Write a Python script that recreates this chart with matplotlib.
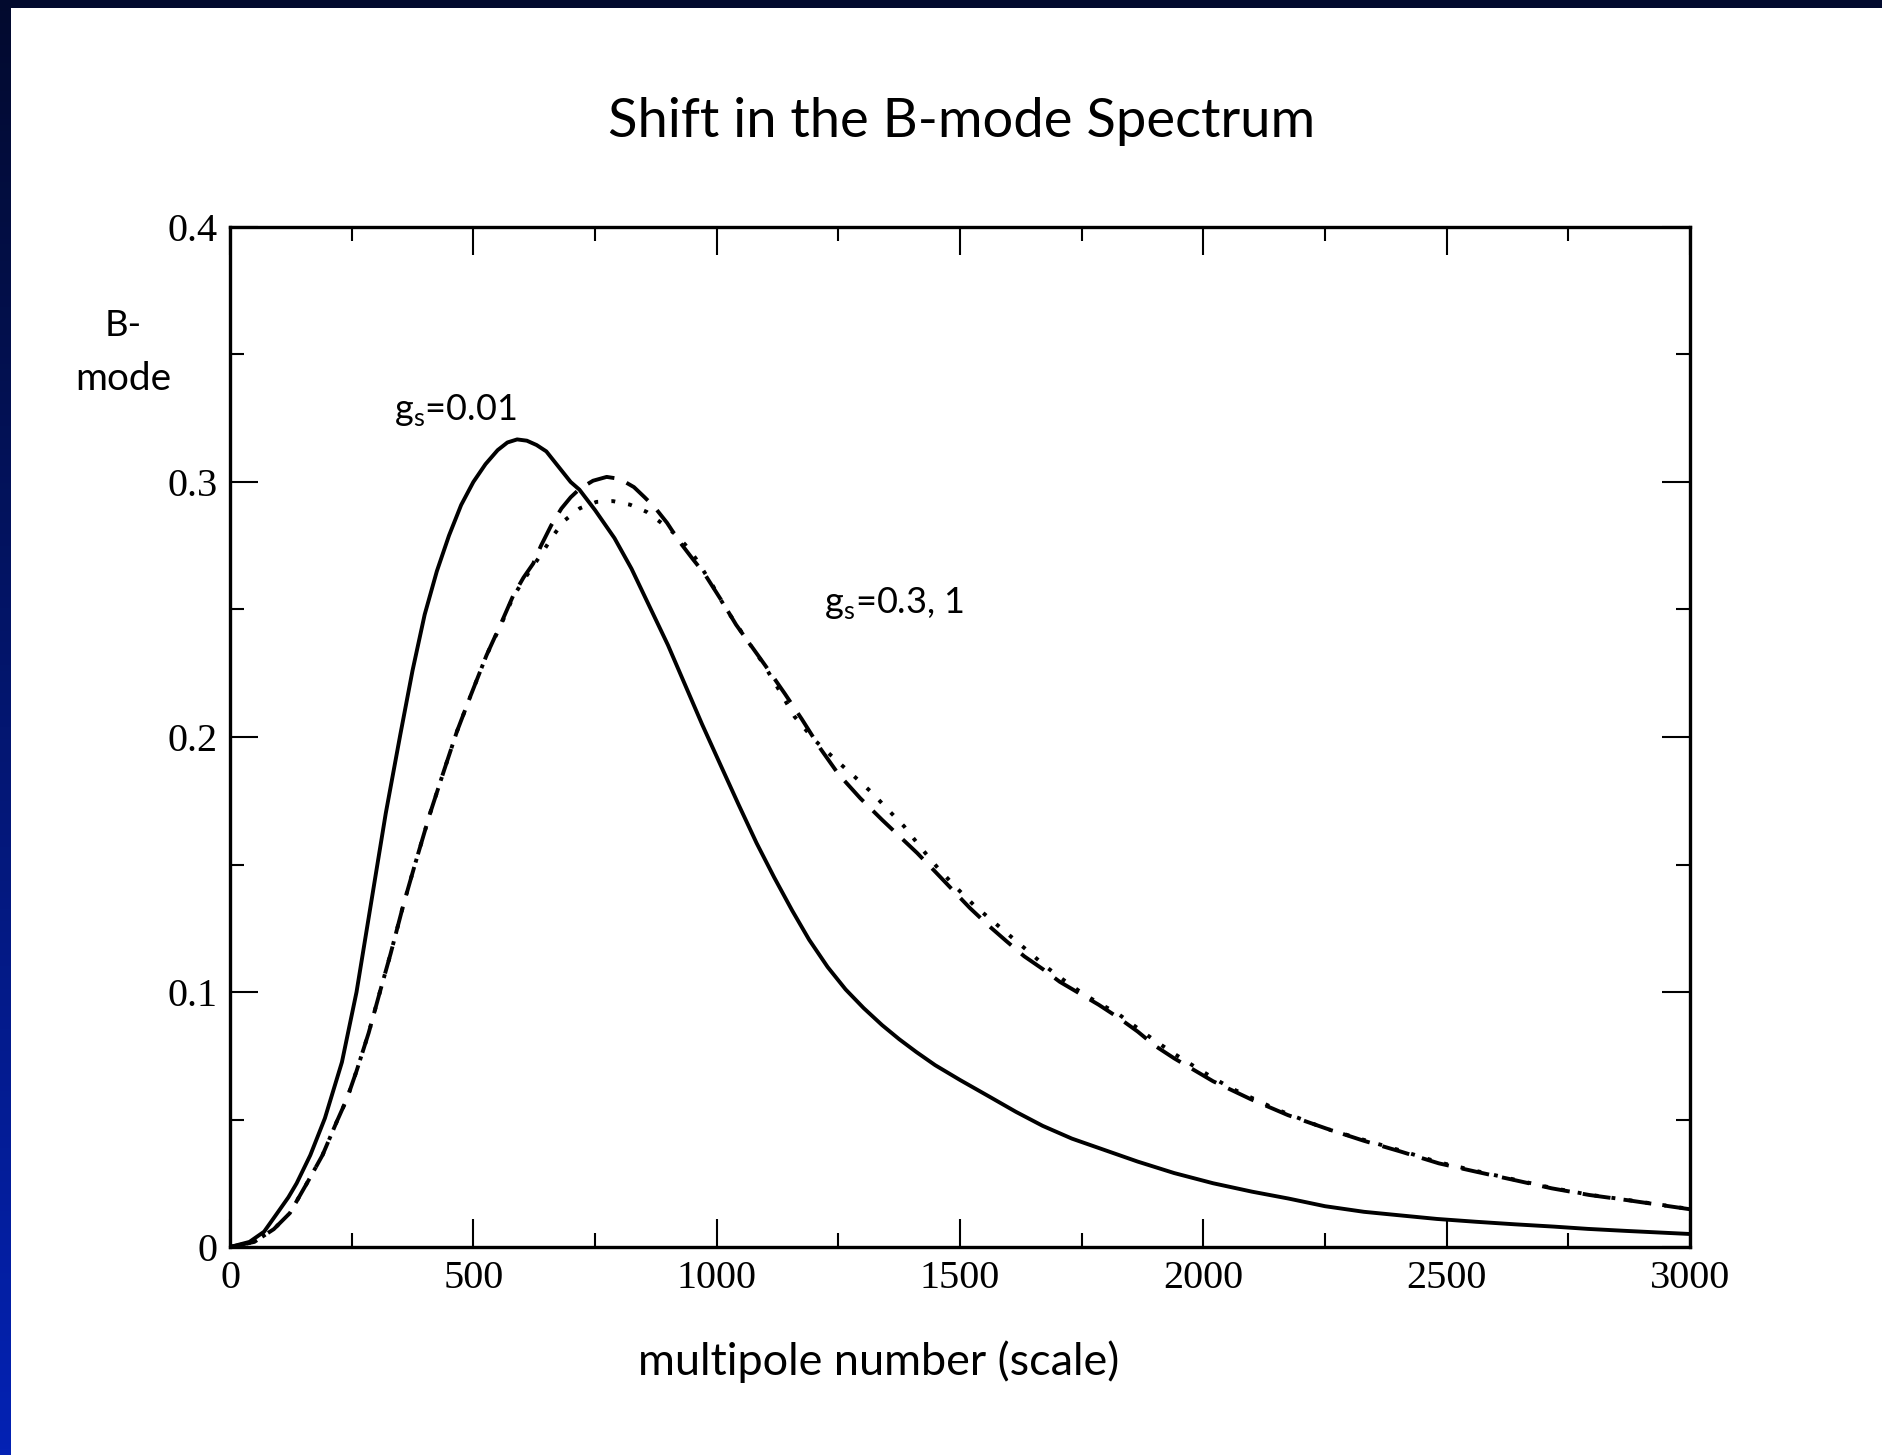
import numpy as np
import matplotlib
matplotlib.use("Agg")
import matplotlib.pyplot as plt
from matplotlib.ticker import MultipleLocator

# ---------------- data ----------------
title = "Shift in the B-mode Spectrum"
xlabel = "multipole number (scale)"
ylabel_lines = ["B-", "mode"]
label_gs001 = r"g$_\mathregular{s}$=0.01"
label_gs03_1 = r"g$_\mathregular{s}$=0.3, 1"

x_gs001 = [0, 40, 70, 96, 120, 137, 165, 195, 230, 260, 290, 320, 350, 375, 400, 425,
           450, 475, 500, 525, 550, 570, 590, 610, 630, 650, 675, 700, 718, 750, 790,
           825, 860, 900, 935, 970, 1008, 1045, 1082, 1118, 1155, 1190, 1228, 1265,
           1302, 1340, 1375, 1410, 1449, 1500, 1560, 1615, 1670, 1730, 1790, 1865,
           1940, 2020, 2100, 2175, 2250, 2330, 2410, 2480, 2560, 2640, 2720, 2790,
           2870, 3000]
y_gs001 = [0.0, 0.002, 0.006, 0.013, 0.0195, 0.025, 0.036, 0.0505, 0.0725, 0.100,
           0.135, 0.170, 0.201, 0.226, 0.248, 0.265, 0.279, 0.291, 0.300, 0.307,
           0.3125, 0.3155, 0.3167, 0.3162, 0.3145, 0.312, 0.306, 0.300, 0.297, 0.289,
           0.278, 0.266, 0.252, 0.236, 0.2205, 0.205, 0.189, 0.1735, 0.1584, 0.145,
           0.132, 0.1205, 0.1098, 0.101, 0.0937, 0.087, 0.0815, 0.0765, 0.0713,
           0.0655, 0.059, 0.053, 0.0475, 0.0425, 0.0385, 0.0335, 0.029, 0.025,
           0.0217, 0.019, 0.016, 0.0138, 0.0123, 0.011, 0.0099, 0.0089, 0.008,
           0.0071, 0.0063, 0.0051]

x_gs03 = [0, 50, 90, 123, 161, 190, 219, 240, 260, 285, 308, 330, 356, 380, 411, 440,
          466, 495, 527, 558, 582, 603, 623, 639, 660, 681, 700, 719, 746, 774, 801,
          830, 852, 873, 898, 922, 950, 975, 1010, 1040, 1070, 1100, 1140, 1175,
          1213, 1250, 1295, 1340, 1376, 1412, 1450, 1485, 1520, 1559, 1595, 1632,
          1670, 1705, 1745, 1785, 1825, 1865, 1900, 1940, 1980, 2020, 2097, 2174,
          2252, 2329, 2406, 2484, 2561, 2638, 2716, 2793, 2870, 3000]
y_gs03 = [0.0, 0.002, 0.007, 0.0133, 0.026, 0.036, 0.049, 0.058, 0.069, 0.084, 0.100,
          0.115, 0.134, 0.150, 0.170, 0.187, 0.202, 0.2165, 0.232, 0.245, 0.2555,
          0.2625, 0.268, 0.275, 0.283, 0.2896, 0.294, 0.2974, 0.3005, 0.302, 0.3012,
          0.298, 0.294, 0.290, 0.284, 0.277, 0.270, 0.264, 0.2535, 0.244, 0.236,
          0.228, 0.217, 0.207, 0.1955, 0.1855, 0.176, 0.1675, 0.161, 0.1545, 0.147,
          0.140, 0.133, 0.126, 0.120, 0.114, 0.109, 0.104, 0.0995, 0.095, 0.090,
          0.0845, 0.079, 0.074, 0.0695, 0.065, 0.058, 0.0517, 0.0465, 0.0417,
          0.0374, 0.0328, 0.0295, 0.0263, 0.023, 0.0204, 0.0184, 0.0148]

x_gs1 = [0, 50, 90, 123, 161, 190, 219, 240, 260, 285, 308, 330, 356, 380, 411, 440,
         466, 495, 527, 558, 582, 603, 623, 644, 664, 688, 719, 753, 787, 822, 856,
         884, 912, 935, 957, 990, 1020, 1057, 1095, 1128, 1160, 1200, 1245, 1283,
         1320, 1352, 1385, 1420, 1456, 1492, 1529, 1566, 1603, 1640, 1676, 1713,
         1750, 1786, 1823, 1860, 1900, 1940, 1980, 2020, 2060, 2150, 2250, 2330,
         2406, 2484, 2561, 2638, 2716, 2793, 2870, 3000]
y_gs1 = [0.0, 0.002, 0.007, 0.0133, 0.026, 0.036, 0.049, 0.058, 0.069, 0.084, 0.100,
         0.115, 0.134, 0.150, 0.170, 0.187, 0.202, 0.2165, 0.232, 0.2445, 0.255,
         0.2615, 0.267, 0.273, 0.279, 0.285, 0.2897, 0.2922, 0.2925, 0.2911, 0.2883,
         0.2843, 0.280, 0.2755, 0.270, 0.260, 0.250, 0.2395, 0.229, 0.2185, 0.208,
         0.199, 0.191, 0.1845, 0.178, 0.1715, 0.165, 0.1565, 0.1483, 0.141, 0.134,
         0.128, 0.122, 0.116, 0.110, 0.1047, 0.0997, 0.0955, 0.0917, 0.0865, 0.081,
         0.0758, 0.071, 0.0663, 0.062, 0.054, 0.0465, 0.042, 0.0378, 0.0332,
         0.0298, 0.0265, 0.0232, 0.0205, 0.0185, 0.0149]

x_ticks = [0, 500, 1000, 1500, 2000, 2500, 3000]
y_ticks = [0, 0.1, 0.2, 0.3, 0.4]
y_ticklabels = ["0", "0.1", "0.2", "0.3", "0.4"]

# ---------------- figure ----------------
W, H = 1882, 1455
DPI = 100
plt.rcParams["mathtext.fontset"] = "custom"
plt.rcParams["mathtext.rm"] = "Lato"
SANS = ["Lato", "DejaVu Sans"]
SERIF = ["Liberation Serif", "DejaVu Serif"]

fig = plt.figure(figsize=(W / DPI, H / DPI), dpi=DPI, facecolor="white")

# slide background border (left gradient strip + top strip)
left_w, top_h = 11, 8
ax_l = fig.add_axes([0, 0, left_w / W, 1])
top_c = np.array([2, 10, 46]) / 255.0
bot_c = np.array([4, 34, 180]) / 255.0
t = np.linspace(0, 1, 256)[:, None, None]
grad = top_c[None, None, :] * (1 - t) + bot_c[None, None, :] * t
ax_l.imshow(grad, aspect="auto", extent=[0, 1, 0, 1])
ax_l.set_axis_off()
ax_t = fig.add_axes([0, 1 - top_h / H, 1, top_h / H])
ax_t.set_facecolor(top_c)
ax_t.set_xticks([]); ax_t.set_yticks([])
for s in ax_t.spines.values():
    s.set_visible(False)

# main axes
x0, x1, y0, y1 = 230, 1690, 227, 1247
ax = fig.add_axes([x0 / W, 1 - y1 / H, (x1 - x0) / W, (y1 - y0) / H])
ax.set_xlim(0, 3000)
ax.set_ylim(0, 0.4)

lw = 2.8
ax.plot(x_gs001, y_gs001, color="black", lw=lw, solid_joinstyle="round")
ax.plot(x_gs03, y_gs03, color="black", lw=lw, linestyle=(0, (7.2, 3.4)),
        dash_capstyle="butt", dash_joinstyle="round")
ax.plot(x_gs1, y_gs1, color="black", lw=lw, linestyle=(0, (1.0, 3.4)),
        dash_capstyle="butt", dash_joinstyle="round")

ax.xaxis.set_major_locator(MultipleLocator(500))
ax.xaxis.set_minor_locator(MultipleLocator(250))
ax.yaxis.set_major_locator(MultipleLocator(0.1))
ax.yaxis.set_minor_locator(MultipleLocator(0.05))
ax.set_xticks(x_ticks)
ax.set_xticklabels([str(v) for v in x_ticks])
ax.set_yticks(y_ticks)
ax.set_yticklabels(y_ticklabels)
ax.tick_params(which="both", direction="in", top=True, right=True, width=1.5,
               colors="black")
ax.tick_params(which="major", length=20, pad=9, labelsize=29)
ax.tick_params(which="minor", length=10)
for lab in ax.get_xticklabels() + ax.get_yticklabels():
    lab.set_fontfamily(SERIF)
for s in ax.spines.values():
    s.set_linewidth(2.4)

# ---------------- texts (fitted to measured widths) ----------------
renderer = fig.canvas.get_renderer()


def fit_text(txt, cx, cy, target_w, family, ha="center", va="center", start=30):
    t_ = fig.text(cx / W, 1 - cy / H, txt, ha=ha, va=va, fontsize=start,
                  family=family, color="black")
    w = t_.get_window_extent(renderer).width
    t_.set_fontsize(start * target_w / w)
    return t_


fit_text(title, 962, 121, 706, SANS)
fit_text(xlabel, 879, 1362, 482, SANS)
fit_text(ylabel_lines[0], 123, 326, 37, SANS, va="center")
fit_text(ylabel_lines[1], 123, 379, 96, SANS, va="center")
fit_text(label_gs001, 455, 420, 122, SANS, va="baseline")
fit_text(label_gs03_1, 894, 613, 140, SANS, va="baseline")

fig.savefig("out.png", dpi=DPI, facecolor="white")
